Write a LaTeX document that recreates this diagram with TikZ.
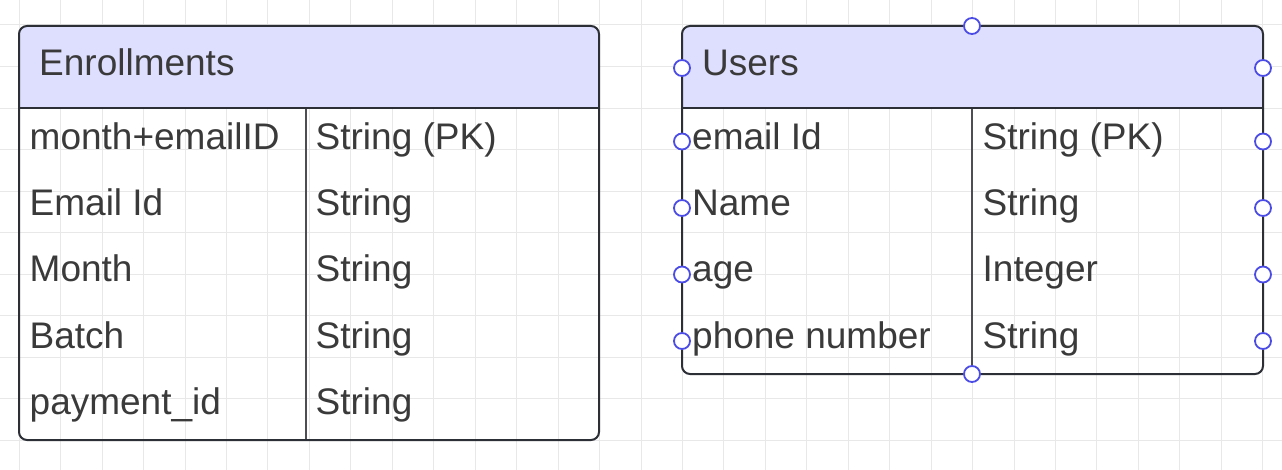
\documentclass[tikz,border=0pt]{standalone}
\usepackage{fontspec}
\setmainfont{Liberation Sans}
\definecolor{gridc}{HTML}{E8E8E8}
\definecolor{hdrc}{HTML}{DEDEFF}
\definecolor{linec}{HTML}{2D2F36}
\definecolor{txtc}{HTML}{3A3A3A}
\definecolor{handlec}{HTML}{4B4BE6}
\tikzset{
  gridline/.style={draw=gridc, line width=1pt},
  boxline/.style={draw=linec, line width=2pt},
  divline/.style={draw=linec!85, line width=1.5pt},
  hdrfill/.style={fill=hdrc},
  celltext/.style={anchor=base west, inner sep=0pt, text=txtc, font=\fontsize{37}{42}\selectfont},
  handle/.style={circle, draw=handlec, line width=1.8pt, fill=white, minimum size=16pt, inner sep=0pt},
}
\begin{document}
\begin{tikzpicture}[x=1pt,y=-1pt]
\useasboundingbox (0,0) rectangle (1282,470);
\fill[white] (0,0) rectangle (1282,470);
% grid
\foreach \i in {0,...,30} {
  \draw[gridline] ({19.25+41.45*\i},0) -- ({19.25+41.45*\i},470);
}
\foreach \j in {0,...,11} {
  \draw[gridline] (0,{25+41.55*\j}) -- (1282,{25+41.55*\j});
}
% Enrollments table
\fill[hdrfill] (19,108) [rounded corners=8pt]-- (19,26) -- (599,26) [sharp corners]-- (599,108) -- cycle;
\draw[divline] (306,108) -- (306,440);
\draw[boxline] (19,108) -- (599,108);
\draw[boxline, rounded corners=8pt] (19,26) rectangle (599,440);
\node[celltext] (etitle) at (39,76) {Enrollments};
\node[celltext] (e1a) at (29.5,149.3) {month+emailID};
\node[celltext] (e1b) at (315.5,149.3) {String (PK)};
\node[celltext] (e2a) at (29.5,215.6) {Email Id};
\node[celltext] (e2b) at (315.5,215.6) {String};
\node[celltext] (e3a) at (29.5,282) {Month};
\node[celltext] (e3b) at (315.5,282) {String};
\node[celltext] (e4a) at (29.5,348.3) {Batch};
\node[celltext] (e4b) at (315.5,348.3) {String};
\node[celltext] (e5a) at (29.5,414.6) {payment\_id};
\node[celltext] (e5b) at (315.5,414.6) {String};
% Users table
\fill[hdrfill] (682,108) [rounded corners=8pt]-- (682,26) -- (1263,26) [sharp corners]-- (1263,108) -- cycle;
\draw[divline] (972,108) -- (972,374);
\draw[boxline] (682,108) -- (1263,108);
\draw[boxline, rounded corners=8pt] (682,26) rectangle (1263,374);
\node[celltext] (utitle) at (702,76) {Users};
\node[celltext] (u1a) at (692,149.3) {email Id};
\node[celltext] (u1b) at (982.5,149.3) {String (PK)};
\node[celltext] (u2a) at (692,215.6) {Name};
\node[celltext] (u2b) at (982.5,215.6) {String};
\node[celltext] (u3a) at (692,282) {age};
\node[celltext] (u3b) at (982.5,282) {Integer};
\node[celltext] (u4a) at (692,348.3) {phone number};
\node[celltext] (u4b) at (982.5,348.3) {String};
% selection handles
\node[handle] (htop) at (972,26) {};
\node[handle] (hbot) at (972,374) {};
\node[handle] (hl0) at (682,68) {};
\node[handle] (hr0) at (1263,68) {};
\node[handle] (hl1) at (682,141.5) {};
\node[handle] (hr1) at (1263,141.5) {};
\node[handle] (hl2) at (682,208) {};
\node[handle] (hr2) at (1263,208) {};
\node[handle] (hl3) at (682,274.5) {};
\node[handle] (hr3) at (1263,274.5) {};
\node[handle] (hl4) at (682,341) {};
\node[handle] (hr4) at (1263,341) {};
\end{tikzpicture}
\end{document}
